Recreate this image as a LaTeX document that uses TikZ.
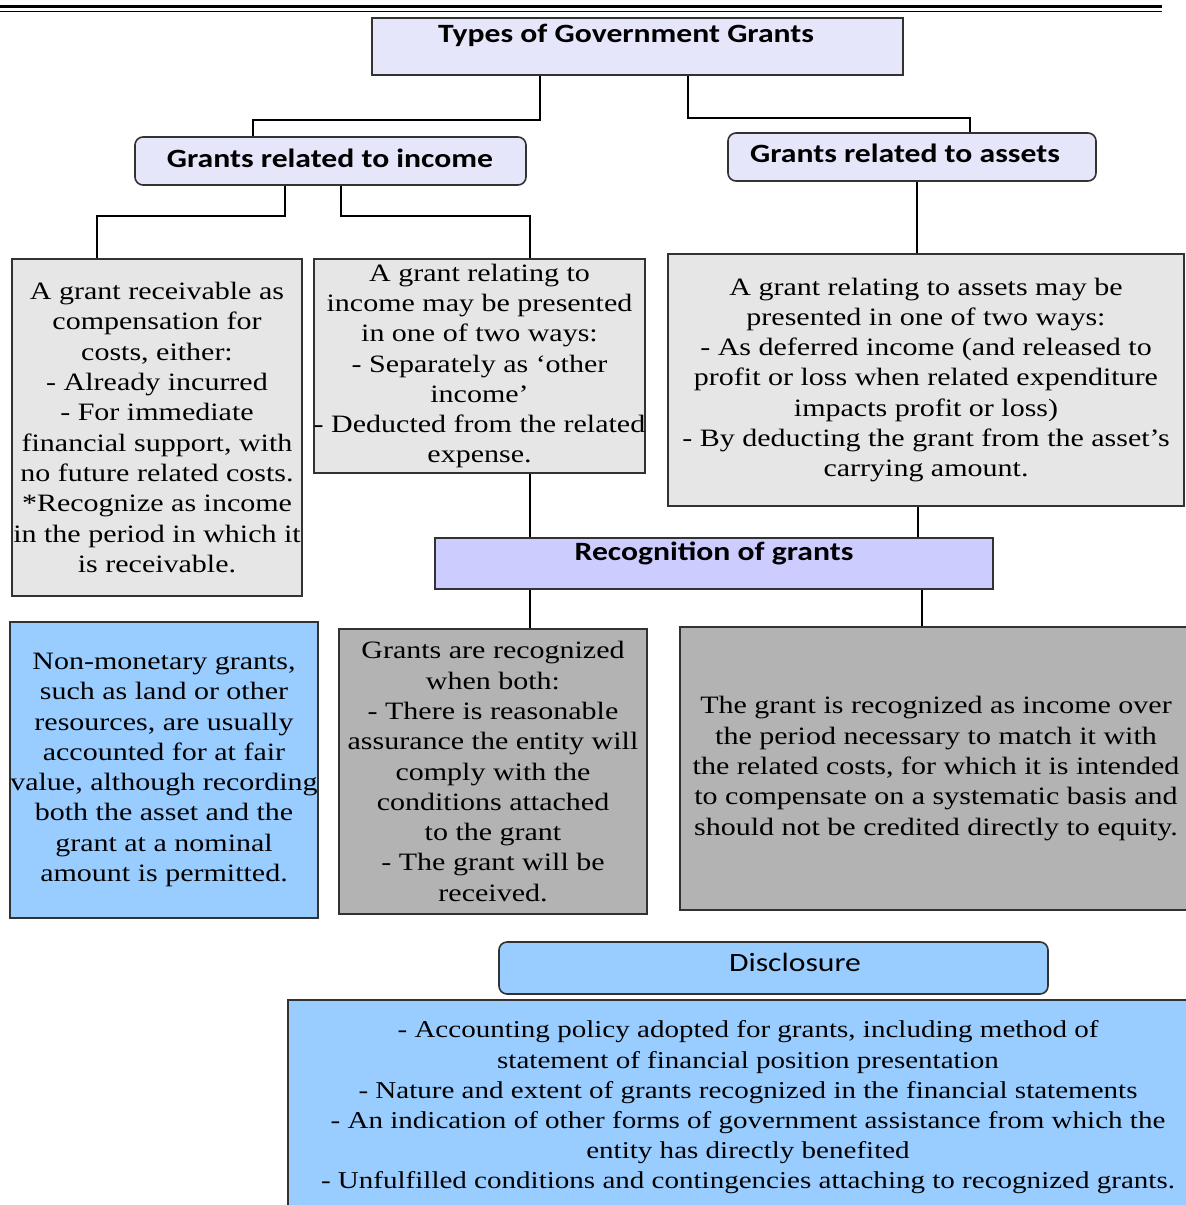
\documentclass[tikz,border=0pt]{standalone}
\usepackage{fontspec}
\setmainfont{Liberation Serif}[FakeStretch=1.2]
\newfontfamily\hdfont{Carlito}[FakeStretch=1.2]
\definecolor{lav}{RGB}{230,230,250}
\definecolor{peri}{RGB}{204,204,255}
\definecolor{lgrey}{RGB}{230,230,230}
\definecolor{mgrey}{RGB}{179,179,179}
\definecolor{lblue}{RGB}{153,204,255}
\definecolor{edge}{RGB}{50,50,50}
\begin{document}
\begin{tikzpicture}[x=1pt,y=-1pt,
  boxbase/.style={draw=edge, line width=1.6pt, inner sep=0pt, align=center,
    font=\fontsize{25}{30.3}\selectfont},
  graybox/.style={boxbase, fill=lgrey},
  darkbox/.style={boxbase, fill=mgrey},
  bluebox/.style={boxbase, fill=lblue},
  headbox/.style={draw=edge, line width=1.6pt, inner sep=0pt},
  roundhead/.style={headbox, rounded corners=8pt},
  hdtext/.style={inner sep=0pt, font=\hdfont\bfseries\fontsize{26.4}{30}\selectfont},
  hdplain/.style={inner sep=0pt, font=\hdfont\fontsize{26.4}{30}\selectfont},
  conn/.style={draw=black, line width=1.5pt}
]
\useasboundingbox (0,0) rectangle (1186,1205);
\fill[white] (0,0) rectangle (1186,1205);
% page header rules
\draw[line width=3pt] (0,6.5) -- (1162,6.5);
\draw[line width=1pt] (0,11) -- (1162,11);

% heading boxes
\node[headbox, fill=lav, minimum width=531pt, minimum height=57pt] (top) at (637.5,46.5) {};
\node[hdtext] (topt) at (626,35) {Types of Government Grants};
\node[roundhead, fill=lav, minimum width=391pt, minimum height=48pt] (inc) at (330.5,161) {};
\node[hdtext] (inct) at (330,158) {Grants related to income};
\node[roundhead, fill=lav, minimum width=368pt, minimum height=48pt] (ast) at (912,157) {};
\node[hdtext] (astt) at (905,153) {Grants related to assets};

% content boxes
\node[graybox, minimum width=290pt, minimum height=337pt] (b1) at (157,427.5)
 {A grant receivable as\\compensation for\\costs, either:\\- Already incurred\\- For immediate\\financial support, with\\no future related costs.\\*Recognize as income\\in the period in which it\\is receivable.};
\node[graybox, minimum width=327pt, minimum height=214pt] (b2) at (479.5,366)
 {A grant relating to\\income may be presented\\in one of two ways:\\- Separately as ‘other\\income’\\- Deducted from the related\\expense.};
\node[graybox, minimum width=516pt, minimum height=252pt] (b3) at (926,380)
 {A grant relating to assets may be\\presented in one of two ways:\\- As deferred income (and released to\\profit or loss when related expenditure\\impacts profit or loss)\\- By deducting the grant from the asset’s\\carrying amount.};

\node[headbox, fill=peri, minimum width=558pt, minimum height=51pt] (rec) at (714,563.5) {};
\node[hdtext] (rect) at (714,553) {Recognition of grants};

\node[bluebox, minimum width=308pt, minimum height=296pt] (b4) at (164,770)
 {Non-monetary grants,\\such as land or other\\resources, are usually\\accounted for at fair\\value, although recording\\both the asset and the\\grant at a nominal\\amount is permitted.};
\node[darkbox, minimum width=308pt, minimum height=285pt] (b5) at (493,771.5)
 {Grants are recognized\\when both:\\- There is reasonable\\assurance the entity will\\comply with the\\conditions attached\\to the grant\\- The grant will be\\received.};
\node[darkbox, minimum width=512pt, minimum height=283pt] (b6) at (936,768.5)
 {The grant is recognized as income over\\the period necessary to match it with\\the related costs, for which it is intended\\to compensate on a systematic basis and\\should not be credited directly to equity.};

\node[roundhead, fill=lblue, minimum width=549pt, minimum height=52pt] (dis) at (773.5,968) {};
\node[hdplain] (dist) at (795,962) {Disclosure};
\node[bluebox, minimum width=920pt, minimum height=215pt, font=\fontsize{24.2}{30.2}\selectfont] (dc) at (748,1107.5)
 {- Accounting policy adopted for grants, including method of\\statement of financial position presentation\\- Nature and extent of grants recognized in the financial statements\\- An indication of other forms of government assistance from which the\\entity has directly benefited\\- Unfulfilled conditions and contingencies attaching to recognized grants.};

% junction coordinates
\coordinate (a1) at (540,120);
\coordinate (a2) at (253,120);
\coordinate (c1) at (688,118);
\coordinate (c2) at (970,118);
\coordinate (d1) at (285,216);
\coordinate (d2) at (97,216);
\coordinate (e1) at (341,216);
\coordinate (e2) at (530,216);
\coordinate (f1) at (917,220);
\coordinate (g1) at (530,510);
\coordinate (g2) at (918,520);
\coordinate (h1) at (530,610);
\coordinate (h2) at (922,610);

% connectors
\draw[conn] (top.south -| a1) -- (a1) -- (a2) -- (inc.north -| a2);
\draw[conn] (top.south -| c1) -- (c1) -- (c2) -- (ast.north -| c2);
\draw[conn] (inc.south -| d1) -- (d1) -- (d2) -- (b1.north -| d2);
\draw[conn] (inc.south -| e1) -- (e1) -- (e2) -- (b2.north -| e2);
\draw[conn] (ast.south -| f1) -- (b3.north -| f1);
\draw[conn] (b2.south -| g1) -- (rec.north -| g1);
\draw[conn] (b3.south -| g2) -- (rec.north -| g2);
\draw[conn] (rec.south -| h1) -- (b5.north -| h1);
\draw[conn] (rec.south -| h2) -- (b6.north -| h2);
\end{tikzpicture}
\end{document}
